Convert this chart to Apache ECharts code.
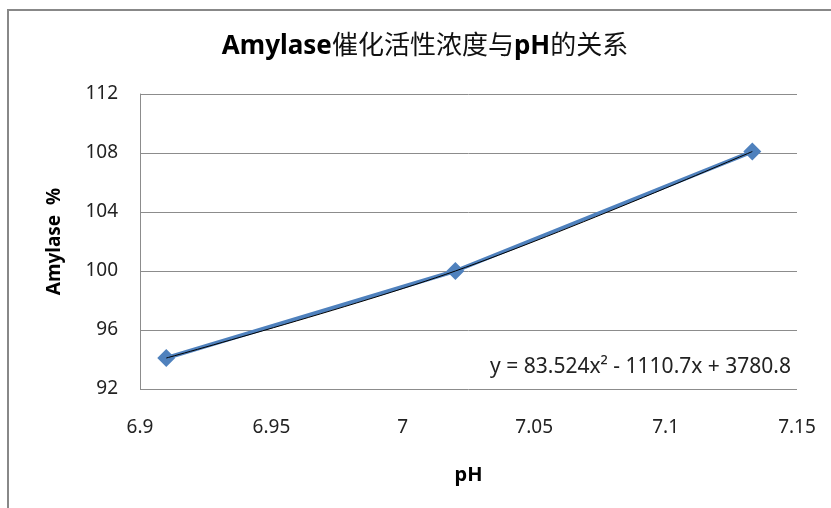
<!DOCTYPE html>
<html><head><meta charset="utf-8">
<script src="https://cdn.jsdelivr.net/npm/echarts@6/dist/echarts.min.js"></script>
<style>html,body{margin:0;padding:0;background:#fff}#c{width:831px;height:508px}</style>
</head><body><div id="c"></div>
<script>
const titleParts = [['b', 'Amylase'], ['n', '催化活性浓度与'], ['b', 'pH'], ['n', '的关系']];
const xName = 'pH';
const yName = 'Amylase  %';
const phValues = [6.91, 7.02, 7.133];
const amylaseValues = [94.1, 100.0, 108.1];
const equationText = 'y = 83.524x² - 1110.7x + 3780.8';

const pts = phValues.map((x, i) => [x, amylaseValues[i]]);
const font = '"Noto Sans","Noto Sans CJK SC",sans-serif';
const chart = echarts.init(document.getElementById('c'));
chart.setOption({
  animation: false,
  grid: { left: 140, right: 34, top: 94, bottom: 119 },
  xAxis: { type: 'value', min: 6.9, max: 7.15, interval: 0.05,
    name: xName, nameLocation: 'middle', nameGap: 76,
    nameTextStyle: { fontFamily: font, fontSize: 20, fontWeight: 'bold', color: '#000' },
    axisLine: { show: false }, axisTick: { show: false }, splitLine: { show: false },
    axisLabel: { fontFamily: font, fontSize: 19, color: '#222', margin: 29,
      formatter: v => String(+v.toFixed(2)) } },
  yAxis: { type: 'value', min: 92, max: 112, interval: 4,
    name: yName, nameLocation: 'middle', nameGap: 76, nameRotate: 90,
    nameTextStyle: { fontFamily: font, fontSize: 19, fontWeight: 'bold', color: '#000' },
    axisLine: { show: true, lineStyle: { color: '#8c8c8c', width: 1 } },
    axisTick: { show: false },
    splitLine: { lineStyle: { color: '#8c8c8c', width: 1 } },
    axisLabel: { fontFamily: font, fontSize: 19, color: '#222', margin: 22 } },
  series: [
    { type: 'line', data: pts, symbol: 'diamond', symbolSize: 18,
      lineStyle: { color: '#4f81bd', width: 4 }, itemStyle: { color: '#4f81bd' }, z: 2 },
    { type: 'line', data: pts, symbol: 'none', smooth: 0.35,
      lineStyle: { color: '#000', width: 1 }, z: 3 }
  ],
  graphic: [
    { type: 'rect', shape: { x: 8, y: 10, width: 900, height: 600 },
      style: { fill: 'none', stroke: '#888', lineWidth: 2 }, silent: true },
    { type: 'text', x: 425, y: 47,
      style: { text: titleParts.map(p => '{' + p[0] + '|' + p[1] + '}').join(''),
        align: 'center', verticalAlign: 'middle',
        rich: {
          b: { fontFamily: font, fontSize: 26, fontWeight: 'bold', fill: '#000' },
          n: { fontFamily: font, fontSize: 26, fontWeight: 'normal', fill: '#111' } } } },
    { type: 'text', right: 40, top: 357,
      style: { text: equationText, font: '21px ' + font, fill: '#222' } }
  ]
});
</script></body></html>
